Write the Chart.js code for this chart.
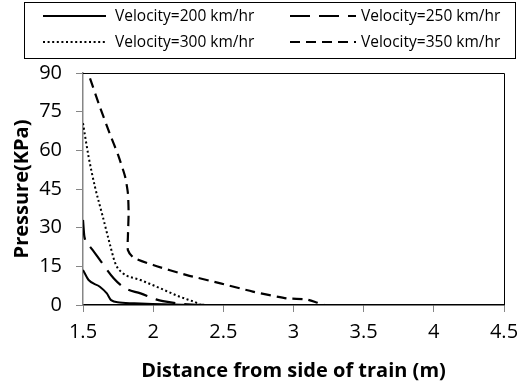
<!DOCTYPE html>
<html>
<head>
<meta charset="utf-8">
<script src="https://cdn.jsdelivr.net/npm/chart.js@4"></script>
<style>
  html, body { margin: 0; padding: 0; background: #fff; }
  #wrap { width: 518px; height: 385px; }
</style>
</head>
<body>
<div id="wrap"><canvas id="c"></canvas></div>
<script>
// Series data (distance in m, pressure in KPa)
const seriesNames = ['Velocity=200 km/hr', 'Velocity=250 km/hr', 'Velocity=300 km/hr', 'Velocity=350 km/hr']

const v200x = [1.5, 1.54, 1.62, 1.67, 1.70, 1.76, 1.91, 2.2, 2.5, 3, 3.5, 4, 4.5]
const v200y = [13.6, 9.7, 7.1, 4.5, 1.9, 1.0, 0.6, 0.1, 0, 0, 0, 0, 0]

const v250x = [1.5, 1.51, 1.55, 1.62, 1.72, 1.80, 1.91, 2.02, 2.07, 2.24, 2.5, 3, 3.5, 4, 4.5]
const v250y = [33, 26.5, 22.6, 17.5, 10.3, 6.5, 4.5, 2.2, 1.5, 0.3, 0, 0, 0, 0, 0]

const v300x = [1.5, 1.54, 1.585, 1.64, 1.69, 1.73, 1.78, 1.91, 2.05, 2.19, 2.29, 2.35, 2.5, 3, 3.5, 4, 4.5]
const v300y = [70.5, 57.5, 45.9, 34.5, 23.9, 16.2, 12.5, 9.7, 6.5, 3.2, 1.3, 0, 0, 0, 0, 0, 0]

const v350x = [1.55, 1.62, 1.69, 1.75, 1.80, 1.82, 1.825, 1.82, 1.82, 1.86, 2.0, 2.24, 2.48, 2.71, 2.95, 3.09, 3.17, 3.22, 3.5, 4, 4.5]
const v350y = [87.9, 76.9, 66.6, 58.2, 49.8, 43.3, 35.6, 26.5, 21.3, 18.4, 15.5, 11.6, 8.4, 5.2, 2.6, 2.2, 0.9, 0, 0, 0, 0]

const xTicks = [1.5, 2, 2.5, 3, 3.5, 4, 4.5]
const yTicks = [0, 15, 30, 45, 60, 75, 90]

const pts = (xs, ys) => xs.map((x, i) => ({ x: x, y: ys[i] }))

const styles = [
  { borderWidth: 2, borderDash: [] },
  { borderWidth: 2.2, borderDash: [20, 9] },
  { borderWidth: 2, borderDash: [2, 2.6] },
  { borderWidth: 2.2, borderDash: [10, 6] }
]

const datasets = [[v200x, v200y], [v250x, v250y], [v300x, v300y], [v350x, v350y]].map((s, i) => ({
  label: seriesNames[i],
  data: pts(s[0], s[1]),
  showLine: true,
  borderColor: '#000',
  borderWidth: styles[i].borderWidth,
  borderDash: styles[i].borderDash,
  pointRadius: 0,
  // 350 km/hr doubles back on itself, so only the others can use monotone
  cubicInterpolationMode: i < 3 ? 'monotone' : 'default',
  tension: 0.2,
  fill: false
}))

const FONT = "'Open Sans', sans-serif"

// boxed legend above the plot, two columns
const boxLegend = {
  id: 'boxLegend',
  afterDraw(chart) {
    const ctx = chart.ctx
    ctx.save()
    ctx.strokeStyle = '#000'
    ctx.lineWidth = 1
    ctx.strokeRect(24.5, 2.5, 491, 56)
    ctx.font = '15.5px ' + FONT
    ctx.fillStyle = '#000'
    ctx.textBaseline = 'middle'
    const cols = [[43, 106, 115], [290, 356, 361]]
    const rows = [16, 42]
    seriesNames.forEach((name, k) => {
      const col = cols[k % 2], y = rows[Math.floor(k / 2)]
      const st = styles[k]
      ctx.lineWidth = st.borderWidth
      ctx.setLineDash(st.borderDash)
      ctx.beginPath()
      ctx.moveTo(col[0], y)
      ctx.lineTo(col[1], y)
      ctx.stroke()
      ctx.setLineDash([])
      ctx.fillText(name, col[2], y + 1)
    })
    ctx.restore()
  },
  beforeDatasetsDraw(chart) {
    const { ctx, chartArea: a } = chart
    ctx.save()
    ctx.strokeStyle = '#000'
    ctx.lineWidth = 1
    ctx.beginPath()
    ctx.moveTo(a.left, a.top + 0.5)
    ctx.lineTo(a.right + 0.5, a.top + 0.5)
    ctx.lineTo(a.right + 0.5, a.bottom)
    ctx.stroke()
    ctx.restore()
  }
}

new Chart(document.getElementById('c'), {
  type: 'scatter',
  data: { datasets },
  options: {
    responsive: true,
    maintainAspectRatio: false,
    animation: false,
    layout: { padding: { top: 73, right: 14, left: 0, bottom: 0 } },
    plugins: { legend: { display: false }, tooltip: { enabled: false } },
    scales: {
      x: {
        type: 'linear',
        min: 1.5, max: 4.5,
        afterBuildTicks: (s) => { s.ticks = xTicks.map(v => ({ value: v })) },
        afterFit: (s) => { s.height = 80; s.paddingLeft = 0; s.paddingRight = 0 },
        grid: { drawOnChartArea: false, drawTicks: true, tickLength: 7, color: '#868686' },
        border: { color: '#000', width: 1.5 },
        ticks: { font: { family: FONT, size: 20 }, color: '#000', padding: 8, maxRotation: 0,
                 callback: (v) => String(v) },
        title: { display: true, text: 'Distance from side of train (m)', font: { family: FONT, size: 20, weight: 'bold' }, color: '#000', padding: { bottom: 2 } }
      },
      y: {
        min: 0, max: 90,
        afterBuildTicks: (s) => { s.ticks = yTicks.map(v => ({ value: v })) },
        afterFit: (s) => { s.width = 83; s.paddingTop = 0; s.paddingBottom = 0 },
        grid: { drawOnChartArea: false, drawTicks: true, tickLength: 7, color: '#868686' },
        border: { color: '#868686', width: 1.5 },
        ticks: { font: { family: FONT, size: 20 }, color: '#000', padding: 14 },
        title: { display: true, text: 'Pressure(KPa)', font: { family: FONT, size: 20, weight: 'bold' }, color: '#000', padding: { top: 10, bottom: 0 } }
      }
    }
  },
  plugins: [boxLegend]
})
</script>
</body>
</html>
